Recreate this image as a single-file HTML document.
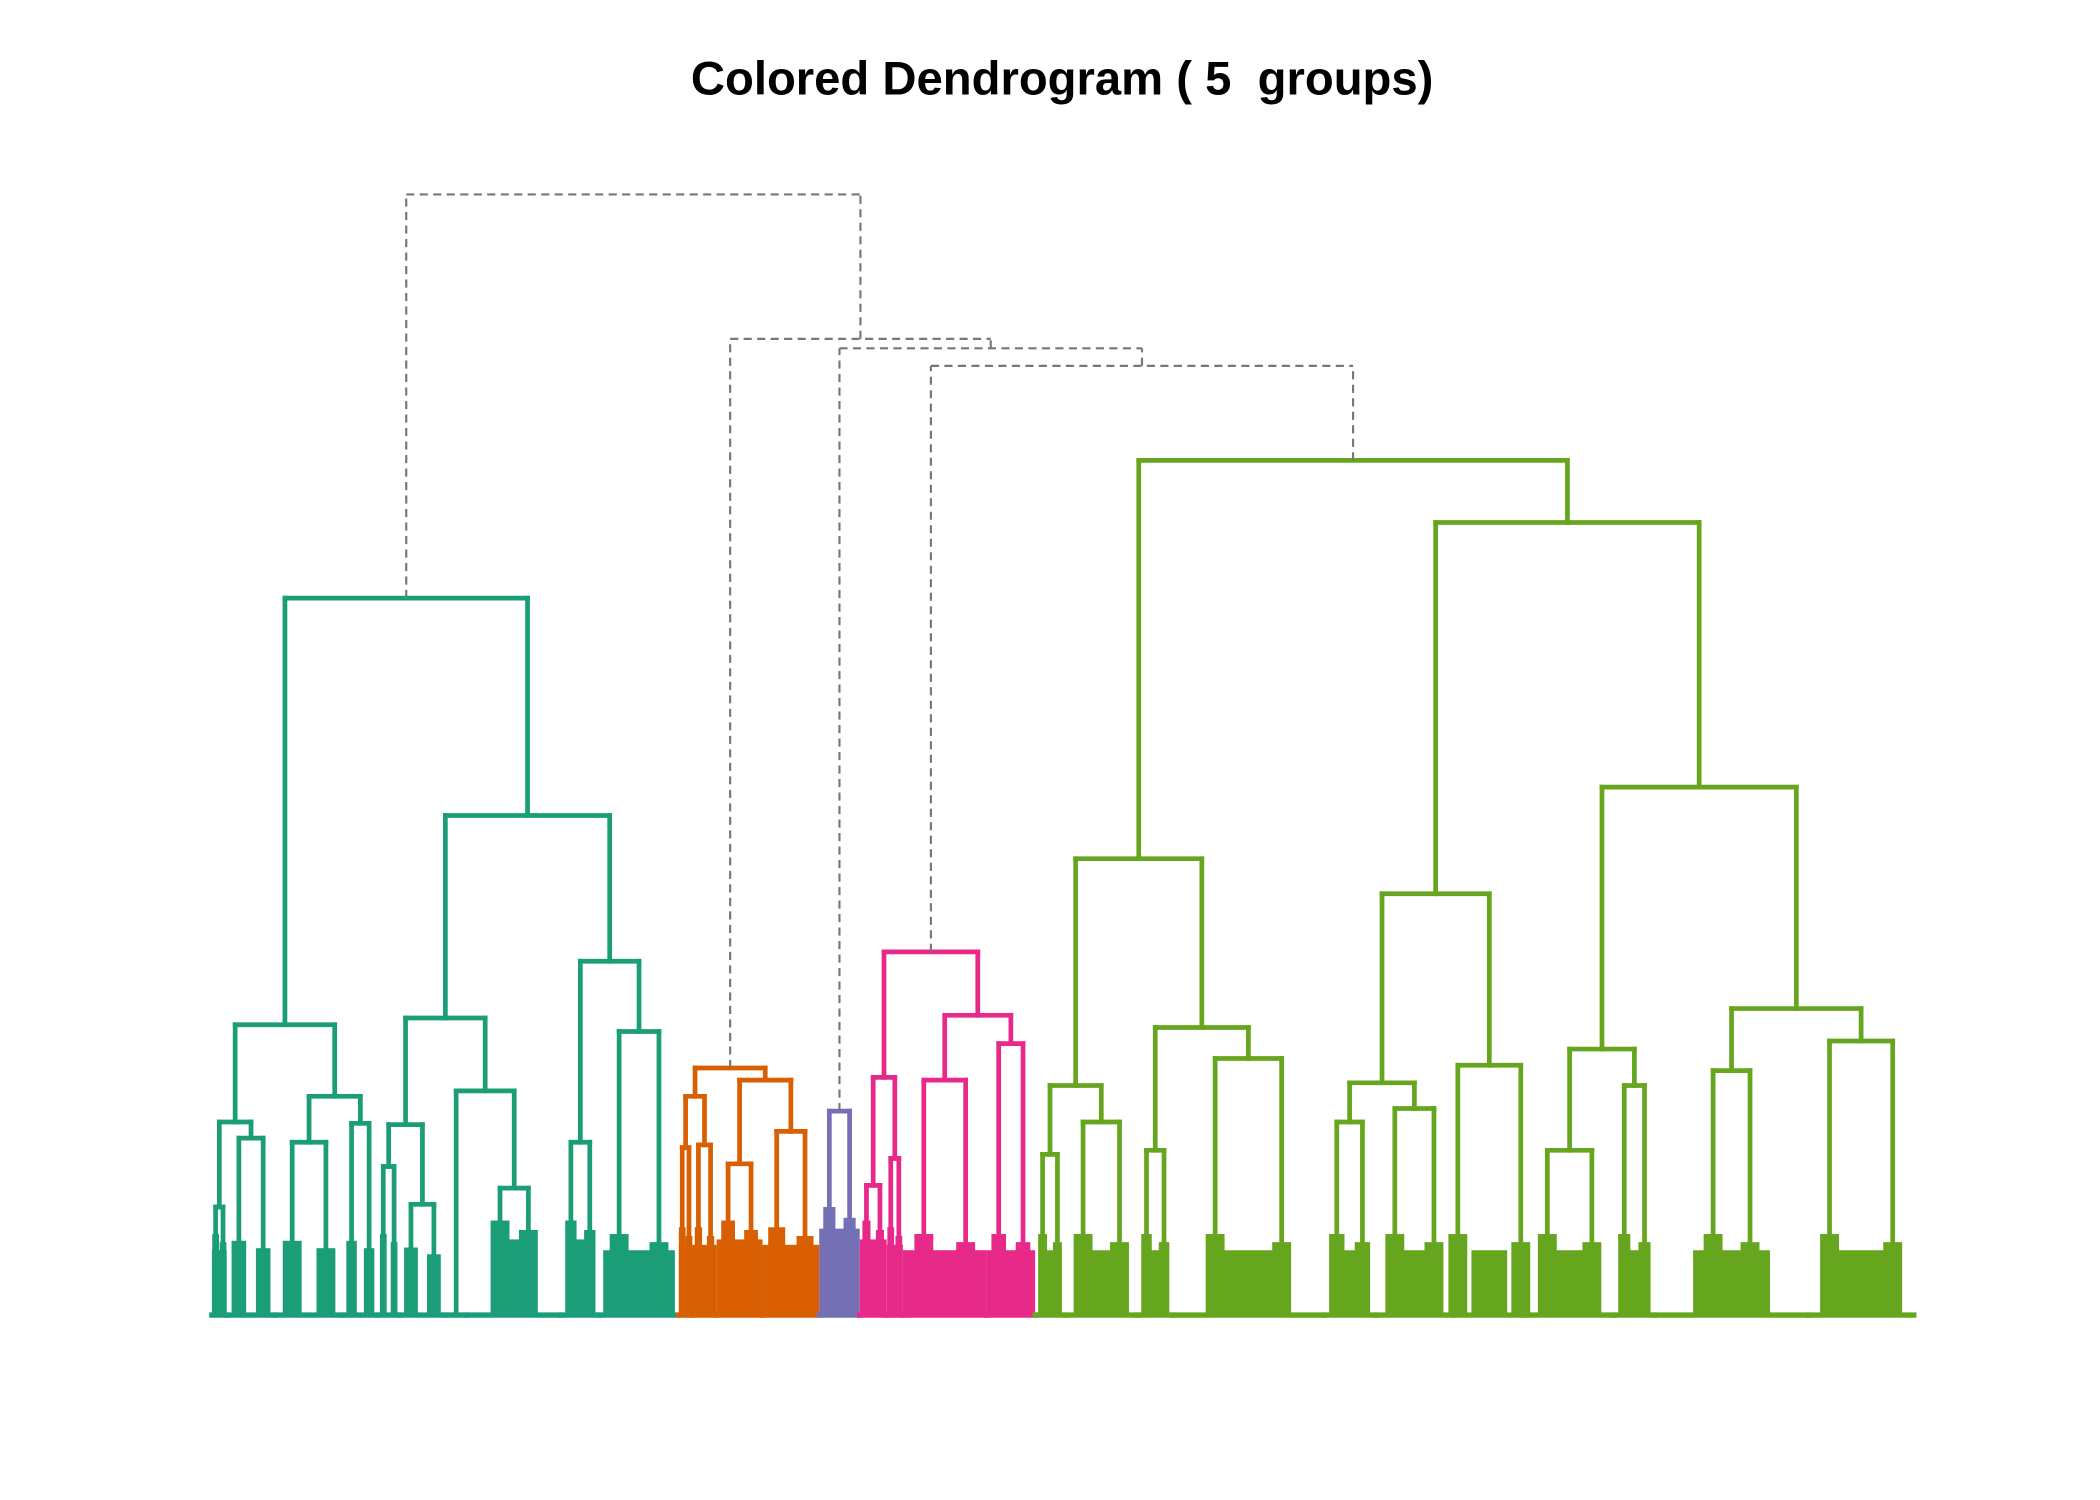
<!DOCTYPE html>
<html>
<head>
<meta charset="utf-8">
<style>
  html, body { margin: 0; padding: 0; background: #ffffff; }
  svg { display: block; }
</style>
</head>
<body>
<svg id="chart" xmlns="http://www.w3.org/2000/svg" width="2100" height="1500" viewBox="0 0 1556 1111" preserveAspectRatio="none">
  <rect x="0" y="0" width="1556" height="1111" fill="#ffffff"></rect>
  <text x="787" y="70" xml:space="preserve" style="white-space:pre" text-anchor="middle" font-family="'Liberation Sans', Arial, sans-serif" font-weight="bold" font-size="35" fill="#000000">Colored Dendrogram ( 5  groups)</text>
  <g id="marks"></g>
</svg>
<script>
// ---- data: group colors and merge heights (height above baseline) ----
const groupColors = ['#1B9E77', '#D95F02', '#7570B3', '#E7298A', '#66A61E'];
const topMergeHeights = [830, 723, 716, 703];        // dashed merges: root, then nested
const groupTopHeights = [531, 183, 151, 269, 633];   // top merge of each colored group

// leaf clumps: width, top height, leaf block height, arm inset, dense-fill fraction
function C(w, h, lo, a, f) { return { w: w, h: h, lo: (lo === undefined ? 60 : lo), a: (a === undefined ? 0.25 : a), f: f || 0 }; }
function N(h, l, r) { return { h: h, l: l, r: r }; }
function D(h, l, r) { return { h: h, l: l, r: r, dash: true }; }

const group1 = N(groupTopHeights[0],
  N(215, N(143, C(11, 80, 60, 0.25, 1), C(36, 131, 55)), N(162, C(50, 128, 55), C(26, 142, 55))),
  N(370,
    N(220, N(141, C(16, 110, 60), C(34, 82, 50)), N(166, C(16, 0, 0), C(70, 94, 70, 0.35, 0.3))),
    N(262, C(28, 128, 70, 0.25, 0.6), C(59, 210, 60, 0.25, 0.9))));
const group2 = N(groupTopHeights[1],
  N(162, C(10, 124, 65, 0.25, 1), C(18, 126, 65, 0.25, 1)),
  N(174, C(34, 112, 70, 0.25, 1), C(42, 136, 65, 0.25, 1)));
const group3 = C(30, groupTopHeights[2], 80, 0.25, 1);
const group4 = N(groupTopHeights[3],
  N(176, C(20, 96, 70, 0.25, 1), C(12, 116, 65, 0.25, 1)),
  N(222, C(62, 174, 60, 0.25, 1), C(36, 201, 60, 0.25, 1)));
const group5 = N(groupTopHeights[4],
  N(338, N(170, C(22, 119, 60, 0.25, 0.7), C(54, 143, 60, 0.25, 0.5)), N(213, C(26, 122, 60, 0.25, 0.6), C(112, 190, 60, 0.28, 0.4))),
  N(587,
    N(312, N(172, C(38, 143, 60, 0.25, 0.5), C(58, 153, 60, 0.25, 0.6)), C(53, 185, 60, 0.06, 0.5)),
    N(391, N(197, C(66, 122, 60, 0.25, 0.4), C(30, 170, 60, 0.25, 0.4)), N(227, C(114, 181, 60, 0.38, 0.5), C(78, 203, 60, 0.2, 0.5)))));

[group1, group2, group3, group4, group5].forEach(function (g, i) { g.col = groupColors[i]; });

const tree = D(topMergeHeights[0], group1,
  D(topMergeHeights[1], group2,
    D(topMergeHeights[2], group3,
      D(topMergeHeights[3], group4, group5))));

// ---- layout / axis ----
const X0 = 157, BASE = 974;
function Y(h) { return BASE - h; }
const NS = 'http://www.w3.org/2000/svg';
const marks = document.getElementById('marks');
let cursor = X0;

function line(x1, y1, x2, y2, stroke, dashed, name, w) {
  const el = document.createElementNS(NS, 'line');
  el.setAttribute('x1', x1); el.setAttribute('y1', y1);
  el.setAttribute('x2', x2); el.setAttribute('y2', y2);
  el.setAttribute('stroke', dashed ? '#777777' : stroke);
  el.setAttribute('stroke-width', dashed ? 1.6 : (w || 3.5));
  if (dashed) el.setAttribute('stroke-dasharray', '6 4');
  else el.setAttribute('stroke-linecap', 'square');
  
  
  marks.appendChild(el);
}
function block(x, w, h, col) {
  const el = document.createElementNS(NS, 'rect');
  el.setAttribute('x', x - w / 2); el.setAttribute('y', Y(h));
  el.setAttribute('width', w); el.setAttribute('height', h);
  el.setAttribute('fill', col);
  
  
  marks.appendChild(el);
}

function layout(node, col) {
  col = node.col || col;
  if (node.w !== undefined) {
    const x0 = cursor; cursor += node.w;
    const cx = x0 + node.w / 2;
    if (node.h > 0) {
      const al = x0 + node.a * node.w, ar = x0 + node.w - node.a * node.w;
      const bw = Math.min(14, Math.max(5, node.w * 0.3));
      if (node.lo > 0) {
        block(al, bw, node.lo, col);
        block(ar, bw, node.lo * 0.9, col);
        if (node.f > 0) block(cx, node.w * node.f, node.lo * 0.8, col);
      }
      line(al, BASE, al, Y(node.h), col, false, 'branch');
      line(ar, BASE, ar, Y(node.h), col, false, 'branch');
      line(al, Y(node.h), ar, Y(node.h), col, false, 'merge');
    }
    line(x0, BASE, x0 + node.w, BASE, col, false, 'baseline-segment', 4);
    return { x: cx, h: node.h };
  }
  const l = layout(node.l, col), r = layout(node.r, col);
  const x = (l.x + r.x) / 2;
  const dashed = !!node.dash;
  line(l.x, Y(l.h), l.x, Y(node.h), col, dashed, dashed ? 'dashed-branch' : 'branch');
  line(r.x, Y(r.h), r.x, Y(node.h), col, dashed, dashed ? 'dashed-branch' : 'branch');
  line(l.x, Y(node.h), r.x, Y(node.h), col, dashed, dashed ? 'dashed-merge' : 'merge');
  return { x: x, h: node.h };
}
layout(tree, '#777777');
</script>
</body>
</html>
